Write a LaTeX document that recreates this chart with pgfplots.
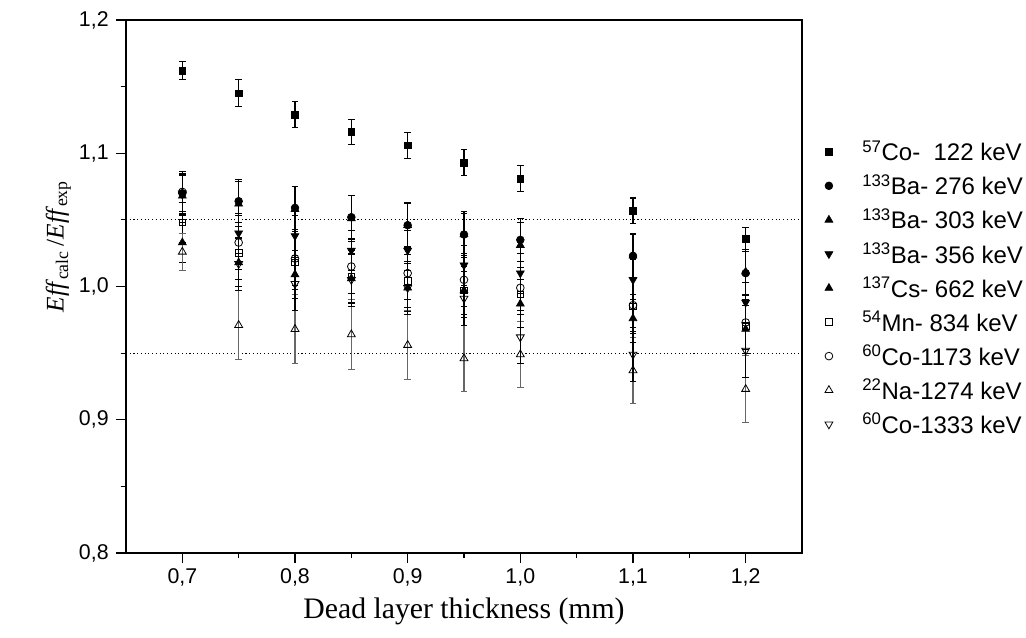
\documentclass[border=0pt]{standalone}
\usepackage{fontspec}
\setmainfont{Liberation Serif}
\newfontfamily\arial{Liberation Sans}
\usepackage{pgfplots}
\pgfplotsset{compat=1.18}
\usepackage{pgfplotstable}

\pgfplotstableread{
x y e
0.70 1.162 0.0066
0.75 1.145 0.0100
0.80 1.129 0.0097
0.85 1.116 0.0094
0.90 1.106 0.0098
0.95 1.093 0.0096
1.00 1.081 0.0095
1.10 1.057 0.0094
1.20 1.036 0.0085
}\coA
\pgfplotstableread{
x y e
0.70 1.070 0.015
0.75 1.064 0.016
0.80 1.059 0.016
0.85 1.052 0.016
0.90 1.046 0.016
0.95 1.039 0.016
1.00 1.035 0.016
1.10 1.023 0.016
1.20 1.010 0.016
}\baA
\pgfplotstableread{
x y e
0.70 1.068 0.015
0.75 1.062 0.017
0.80 1.058 0.017
0.85 1.051 0.017
0.90 1.046 0.017
0.95 1.039 0.017
1.00 1.031 0.017
1.10 1.023 0.017
1.20 1.011 0.017
}\baB
\pgfplotstableread{
x y e
0.70 1.069 0.015
0.75 1.040 0.015
0.80 1.038 0.015
0.85 1.027 0.015
0.90 1.027 0.015
0.95 1.016 0.015
1.00 1.010 0.015
1.10 1.005 0.015
1.20 0.988 0.015
}\baC
\pgfplotstableread{
x y e
0.70 1.033 0.015
0.75 1.018 0.018
0.80 1.009 0.018
0.85 1.006 0.018
0.90 0.999 0.018
0.95 0.997 0.018
1.00 0.987 0.018
1.10 0.976 0.018
1.20 0.968 0.018
}\cs
\pgfplotstableread{
x y e
0.70 1.048 0.015
0.75 1.025 0.020
0.80 1.018 0.020
0.85 1.007 0.020
0.90 1.004 0.020
0.95 0.997 0.020
1.00 0.994 0.020
1.10 0.985 0.020
1.20 0.970 0.020
}\mn
\pgfplotstableread{
x y e
0.70 1.071 0.015
0.75 1.033 0.020
0.80 1.021 0.020
0.85 1.015 0.020
0.90 1.010 0.020
0.95 1.005 0.020
1.00 0.999 0.020
1.10 0.986 0.020
1.20 0.973 0.020
}\coB
\pgfplotstableread{
x y e
0.70 1.026 0.014
0.75 0.971 0.026
0.80 0.968 0.026
0.85 0.964 0.026
0.90 0.956 0.026
0.95 0.946 0.025
1.00 0.949 0.025
1.10 0.937 0.025
1.20 0.923 0.025
}\na
\pgfplotstableread{
x y e
0.70 1.070 0.015
0.75 1.017 0.020
0.80 1.002 0.020
0.85 1.005 0.020
0.90 0.999 0.020
0.95 0.991 0.020
1.00 0.962 0.020
1.10 0.949 0.020
1.20 0.952 0.020
}\coC

\begin{document}
\begin{tikzpicture}
\pgfplotsset{
  eb/.style={error bars/.cd, y dir=both, y explicit,
    error bar style={#1, line width=0.8pt},
    error mark options={#1, rotate=90, mark size=2.4pt, line width=0.8pt}},
  eb/.default=black,
}
\begin{axis}[
  scale only axis, width=507pt, height=399.75pt,
  at={(0,0)}, anchor=south west,
  xmin=0.65, xmax=1.25, ymin=0.8, ymax=1.2,
  xtick={0.7,0.8,0.9,1.0,1.1,1.2},
  ytick={0.8,0.9,1.0,1.1,1.2},
  minor x tick num=1, minor y tick num=1,
  tick align=outside, xtick pos=bottom, ytick pos=left,
  major tick length=7.5pt, minor tick length=4pt,
  axis line style={line width=1pt},
  every tick/.style={black, line width=0.9pt},
  ticklabel style={font=\arial\fontsize{16}{18}\selectfont,
    /pgf/number format/assume math mode=true,
    /pgf/number format/use comma,
    /pgf/number format/fixed,
    /pgf/number format/fixed zerofill,
    /pgf/number format/precision=1},
  xticklabel style={yshift=-1pt},
  yticklabel style={xshift=-2pt},
  xlabel={Dead layer thickness (mm)},
  ylabel={\textit{Eff}\textsubscript{calc}\,/\textit{Eff}\textsubscript{exp}},
  xlabel style={font=\fontsize{22.3}{25}\selectfont, at={(axis description cs:0.5,-0.11)}, anchor=center},
  ylabel style={font=\fontsize{19}{22}\selectfont, at={(axis description cs:-0.1,0.575)}, anchor=center},
  legend style={at={(axis description cs:1,0.497)}, anchor=west, inner sep=0pt,
    draw=none, fill=none, font=\arial\fontsize{18}{20}\selectfont, row sep=5pt},
  legend cell align=left,
  legend image code/.code={\path[draw=none,fill=none] (0pt,0pt) -- (43pt,0pt); \draw[#1] plot coordinates {(20pt,0pt)};},
]
\addplot[forget plot, dotted, thick] coordinates {(0.65,1.05) (1.25,1.05)};
\addplot[forget plot, dotted, thick] coordinates {(0.65,0.95) (1.25,0.95)};
\addplot[only marks, mark=square*, mark size=2.5pt, mark options={black, fill=black, line width=0.5pt}, eb] table[x=x,y=y,y error=e]{\coA};
\addlegendentry{\textsuperscript{57}Co-\ \ 122 keV}
\addplot[only marks, mark=*, mark size=2.9pt, mark options={black, fill=black, line width=0.5pt}, eb] table[x=x,y=y,y error=e]{\baA};
\addlegendentry{\textsuperscript{133}Ba- 276 keV}
\addplot[only marks, mark=triangle*, mark size=3.4pt, mark options={black, fill=black, line width=0.5pt}, eb] table[x=x,y=y,y error=e]{\baB};
\addlegendentry{\textsuperscript{133}Ba- 303 keV}
\addplot[only marks, mark=triangle*, mark size=3.4pt, mark options={black, fill=black, rotate=180, line width=0.5pt}, eb] table[x=x,y=y,y error=e]{\baC};
\addlegendentry{\textsuperscript{133}Ba- 356 keV}
\addplot[only marks, mark=triangle*, mark size=3.4pt, mark options={black, fill=black, line width=0.5pt}, eb] table[x=x,y=y,y error=e]{\cs};
\addlegendentry{\textsuperscript{137}Cs- 662 keV}
\addplot[only marks, mark=square, mark size=2.5pt, mark options={black, line width=0.6pt}, eb] table[x=x,y=y,y error=e]{\mn};
\addlegendentry{\textsuperscript{54}Mn- 834 keV}
\addplot[only marks, mark=o, mark size=2.9pt, mark options={black, line width=0.6pt}, eb] table[x=x,y=y,y error=e]{\coB};
\addlegendentry{\textsuperscript{60}Co-1173 keV}
\addplot[only marks, mark=triangle, mark size=3.4pt, mark options={black, line width=0.6pt}, eb=black!60] table[x=x,y=y,y error=e]{\na};
\addlegendentry{\textsuperscript{22}Na-1274 keV}
\addplot[only marks, mark=triangle, mark size=3.4pt, mark options={black, rotate=180, line width=0.6pt}, eb] table[x=x,y=y,y error=e]{\coC};
\addlegendentry{\textsuperscript{60}Co-1333 keV}
\end{axis}
\pgfresetboundingbox
\useasboundingbox (-94.5pt,-63.75pt) rectangle (675pt,414.75pt);
\end{tikzpicture}
\end{document}
